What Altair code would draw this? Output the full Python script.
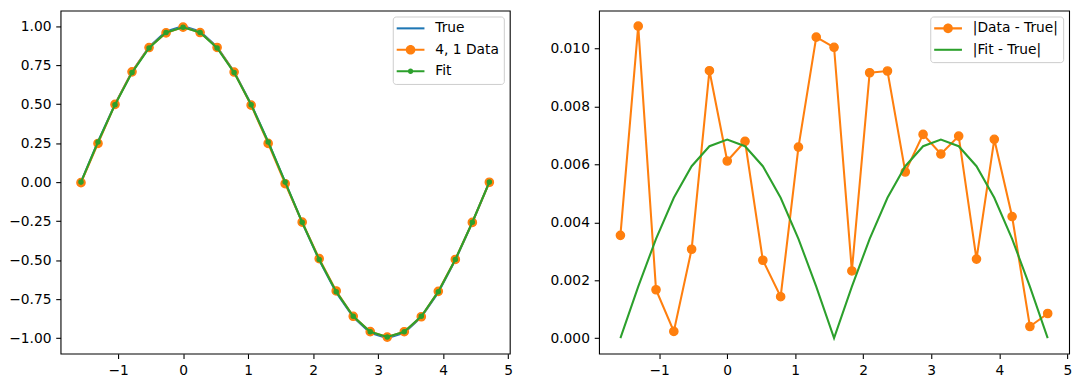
import altair as alt
import pandas as pd

# ---------------- data ----------------
x_vals = [-1.5708, -1.3090, -1.0472, -0.7854, -0.5236, -0.2618, 0.0, 0.2618, 0.5236,
          0.7854, 1.0472, 1.3090, 1.5708, 1.8326, 2.0944, 2.3562, 2.6180, 2.8798,
          3.1416, 3.4034, 3.6652, 3.9270, 4.1888, 4.4506, 4.7124]
true_vals = [0.0, 0.2588, 0.5, 0.7071, 0.8660, 0.9659, 1.0, 0.9659, 0.8660, 0.7071, 0.5,
             0.2588, 0.0, -0.2588, -0.5, -0.7071, -0.8660, -0.9659, -1.0, -0.9659,
             -0.8660, -0.7071, -0.5, -0.2588, 0.0]
data_vals = [-0.00355, 0.24802, 0.49833, 0.70688, 0.86296, 0.95669, 0.99388, 0.95913,
             0.86334, 0.70568, 0.4934, 0.24842, -0.01005, -0.2565, -0.49083, -0.69788,
             -0.86029, -0.95889, -0.99364, -0.95895, -0.8633, -0.70024, -0.4958,
             -0.25842, -0.00085]
fit_vals = [0.0, 0.25705, 0.49657, 0.70226, 0.86009, 0.9593, 0.99314, 0.9593, 0.86009,
            0.70226, 0.49657, 0.25705, 0.0, -0.25705, -0.49657, -0.70226, -0.86009,
            -0.9593, -0.99314, -0.9593, -0.86009, -0.70226, -0.49657, -0.25705, 0.0]
data_err = [0.00355, 0.01078, 0.00167, 0.00023, 0.00307, 0.00924, 0.00612, 0.00680,
            0.00269, 0.00143, 0.00660, 0.01040, 0.01005, 0.00232, 0.00917, 0.00923,
            0.00574, 0.00704, 0.00636, 0.00698, 0.00273, 0.00687, 0.00420, 0.00040,
            0.00085]
fit_err = [0.0, 0.00178, 0.00343, 0.00485, 0.00594, 0.00663, 0.00686, 0.00663, 0.00594,
           0.00485, 0.00343, 0.00178, 0.0, 0.00178, 0.00343, 0.00485, 0.00594, 0.00663,
           0.00686, 0.00663, 0.00594, 0.00485, 0.00343, 0.00178, 0.0]

left_series = ["True", "4, 1 Data", "Fit"]
right_series = ["|Data - True|", "|Fit - True|"]
x_ticks = [-1, 0, 1, 2, 3, 4, 5]
left_y_ticks = [-1.0, -0.75, -0.5, -0.25, 0.0, 0.25, 0.5, 0.75, 1.0]
right_y_ticks = [0.0, 0.002, 0.004, 0.006, 0.008, 0.010]

BLUE, ORANGE, GREEN = "#1f77b4", "#ff7f0e", "#2ca02c"
FONT = "DejaVu Sans"
FS = 13.9
LW = 2.08

left_df = pd.DataFrame({
    "x": x_vals * 3,
    "y": true_vals + data_vals + fit_vals,
    "series": [s for s in left_series for _ in x_vals],
})
right_df = pd.DataFrame({
    "x": x_vals * 2,
    "y": data_err + fit_err,
    "series": [s for s in right_series for _ in x_vals],
})

# legend symbols: line + marker, in legend symbol units (6 px per unit)
LINE = "M-1.333,-0.173L3.333,-0.173L3.333,0.173L-1.333,0.173Z"
BIG = "M0.19,0A0.81,0.81 0 1,1 1.81,0A0.81,0.81 0 1,1 0.19,0Z"
SMALL = "M0.54,0A0.46,0.46 0 1,1 1.46,0A0.46,0.46 0 1,1 0.54,0Z"

xscale = alt.Scale(domain=[-1.885, 5.027], nice=False, zero=False)


def xenc():
    return alt.X("x:Q", scale=xscale, axis=alt.Axis(values=x_ticks, format="d", title=None))


def legend_layer(df, series, colors, shapes):
    return alt.Chart(df).mark_point(filled=True, size=0, opacity=1).encode(
        x=xenc(),
        y="y:Q",
        color=alt.Color("series:N", scale=alt.Scale(domain=series, range=colors),
                        legend=alt.Legend(title=None, orient="top-right", offset=6,
                                          padding=5, rowPadding=6.6, symbolSize=144,
                                          symbolStrokeWidth=0, symbolOpacity=1,
                                          labelOffset=24, labelFont=FONT,
                                          labelFontSize=FS, labelColor="black",
                                          strokeColor="#cccccc", fillColor="white",
                                          cornerRadius=3)),
        shape=alt.Shape("series:N", scale=alt.Scale(domain=series, range=shapes),
                        legend=alt.Legend(title=None)),
    )


# ---------------- left panel ----------------
ly = alt.Y("y:Q", scale=alt.Scale(domain=[-1.1, 1.1], nice=False, zero=False),
           axis=alt.Axis(values=left_y_ticks, format=".2f", title=None,
                         minExtent=52, maxExtent=52))
lbase = alt.Chart(left_df).encode(x=xenc(), y=ly)

l_true = lbase.transform_filter(alt.datum.series == "True").mark_line(color=BLUE, strokeWidth=LW)
l_data = lbase.transform_filter(alt.datum.series == "4, 1 Data").mark_line(color=ORANGE, strokeWidth=LW)
l_data_pts = lbase.transform_filter(alt.datum.series == "4, 1 Data").mark_circle(
    size=69, color=ORANGE, opacity=1, stroke=ORANGE, strokeWidth=1.39)
l_fit = lbase.transform_filter(alt.datum.series == "Fit").mark_line(color=GREEN, strokeWidth=LW)
l_fit_pts = lbase.transform_filter(alt.datum.series == "Fit").mark_circle(
    size=17.4, color=GREEN, opacity=1, stroke=GREEN, strokeWidth=1.39)
l_leg = legend_layer(left_df, left_series, [BLUE, ORANGE, GREEN],
                     [LINE, LINE + BIG, LINE + SMALL])

left = alt.layer(l_true, l_data, l_data_pts, l_fit, l_fit_pts, l_leg).properties(
    width=453, height=346)

# ---------------- right panel ----------------
ry = alt.Y("y:Q", scale=alt.Scale(domain=[-0.000539, 0.011319], nice=False, zero=False),
           axis=alt.Axis(values=right_y_ticks, format=".3f", title=None))
rbase = alt.Chart(right_df).encode(x=xenc(), y=ry)

r_data = rbase.transform_filter(alt.datum.series == "|Data - True|").mark_line(color=ORANGE, strokeWidth=LW)
r_data_pts = rbase.transform_filter(alt.datum.series == "|Data - True|").mark_circle(
    size=69, color=ORANGE, opacity=1, stroke=ORANGE, strokeWidth=1.39)
r_fit = rbase.transform_filter(alt.datum.series == "|Fit - True|").mark_line(color=GREEN, strokeWidth=LW)
r_leg = legend_layer(right_df, right_series, [ORANGE, GREEN], [LINE + BIG, LINE])

right = alt.layer(r_data, r_data_pts, r_fit, r_leg).properties(width=474, height=346)

chart = alt.hconcat(left, right, spacing=90, bounds="flush").resolve_scale(
    color="independent", shape="independent", y="independent"
).properties(
    padding={"left": 0, "top": 0, "right": 8, "bottom": 5}
).configure_view(
    stroke="black", strokeWidth=1.1
).configure_axis(
    labelFont=FONT, labelFontSize=FS, labelColor="black", tickColor="black",
    tickWidth=1.1, tickSize=4.86, labelPadding=4.86, domain=False, grid=False,
)

chart.save("out.html", embed_options={"renderer": "svg", "actions": False})
